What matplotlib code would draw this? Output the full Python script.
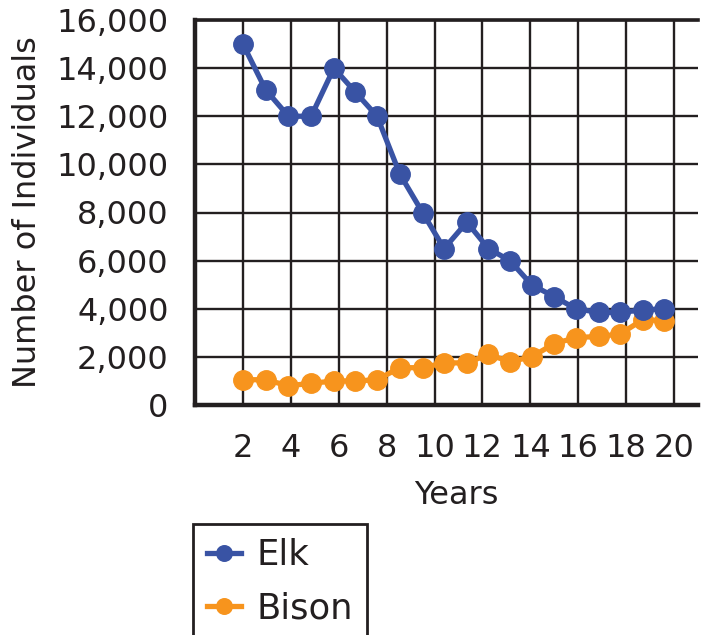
import matplotlib
matplotlib.use("Agg")
import matplotlib.pyplot as plt

years = [2.0, 2.95, 3.9, 4.85, 5.8, 6.7, 7.6, 8.55, 9.5, 10.4,
         11.35, 12.25, 13.15, 14.05, 15.0, 15.9, 16.85, 17.75, 18.7, 19.6]
elk = [15000, 13100, 12000, 12000, 14000, 13000, 12000, 9600, 8000, 6500,
       7600, 6500, 6000, 5000, 4500, 4000, 3850, 3850, 3950, 4000]
bison = [1050, 1050, 800, 900, 1000, 1000, 1050, 1550, 1550, 1750,
         1750, 2100, 1800, 2000, 2550, 2800, 2850, 2950, 3550, 3500]
xticks = [2, 4, 6, 8, 10, 12, 14, 16, 18, 20]
yticks = [0, 2000, 4000, 6000, 8000, 10000, 12000, 14000, 16000]
ytick_labels = ["0", "2,000", "4,000", "6,000", "8,000", "10,000", "12,000", "14,000", "16,000"]

plt.rcParams['font.family'] = ['DejaVu Sans']
W, H = 713, 635
fig = plt.figure(figsize=(W / 100, H / 100), dpi=100)
ax = fig.add_axes([195 / W, 1 - 405 / H, (698 - 195) / W, (405 - 20) / H])

blue = "#3953A4"
orange = "#F7941D"
txt = "#231F20"

ax.plot(years, bison, color=orange, lw=3.8, marker='o', ms=14, label="Bison", zorder=3, clip_on=False)
ax.plot(years, elk, color=blue, lw=3.8, marker='o', ms=14, label="Elk", zorder=4, clip_on=False)

ax.set_xlim(0, 21)
ax.set_ylim(0, 16000)
ax.set_xticks(xticks)
ax.set_xticklabels([str(t) for t in xticks])
ax.set_yticks(yticks)
ax.set_yticklabels(ytick_labels)
ax.tick_params(axis='both', length=0, labelsize=23, colors=txt)
ax.tick_params(axis='x', pad=20)
ax.tick_params(axis='y', pad=19)
ax.grid(True, color=txt, lw=1.7, zorder=1)
ax.set_axisbelow(True)

for s in ['left', 'bottom']:
    ax.spines[s].set_linewidth(3.2)
    ax.spines[s].set_color(txt)
ax.spines['top'].set_linewidth(2.6)
ax.spines['top'].set_color(txt)
ax.spines['right'].set_visible(False)

ax.set_xlabel("Years", fontsize=23, color=txt)
ax.xaxis.set_label_coords(0.52, -0.195)
ax.set_ylabel("Number of Individuals", fontsize=23, color=txt)
ax.yaxis.set_label_coords(-0.302, 0.5)

handles, labels = ax.get_legend_handles_labels()
leg = fig.legend(handles[::-1], labels[::-1], loc='upper left',
                 bbox_to_anchor=(193 / W, 1 - 524 / H),
                 fontsize=25.5, frameon=True, fancybox=False, framealpha=1,
                 handlelength=0.95, handletextpad=0.45, labelspacing=0.55,
                 borderpad=0.4, borderaxespad=0, markerscale=0.8)
leg.get_frame().set_edgecolor(txt)
leg.get_frame().set_linewidth(2.0)
for t in leg.get_texts():
    t.set_color(txt)

fig.savefig("out.png", dpi=100)
